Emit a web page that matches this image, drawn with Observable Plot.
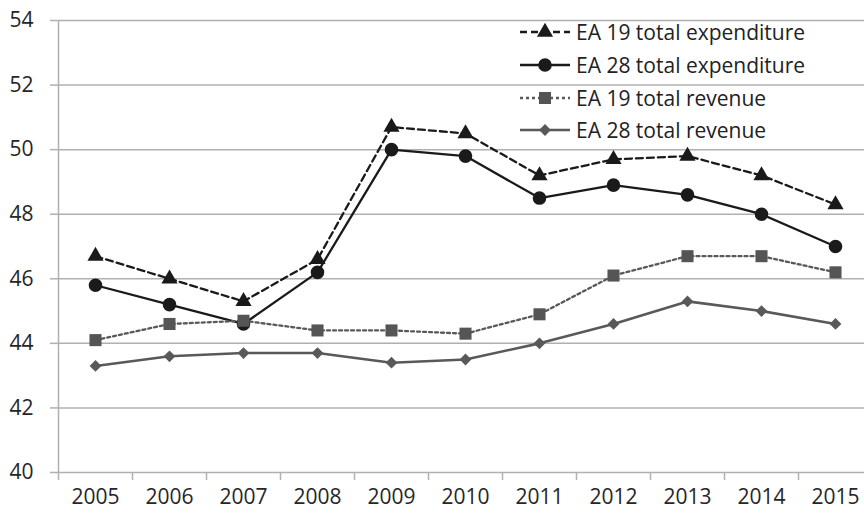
<!DOCTYPE html>
<html>
<head>
<meta charset="utf-8">
<script src="https://cdn.jsdelivr.net/npm/d3@7"></script>
<script src="https://cdn.jsdelivr.net/npm/@observablehq/plot@0.6"></script>
<style>
  html, body { margin: 0; padding: 0; background: #fff; }
  #wrap { position: relative; width: 864px; height: 514px; font-family: "Open Sans", sans-serif; }
  #legend { position: absolute; left: 520px; top: 16px; }
  .row { display: flex; align-items: center; height: 32.7px; }
  .row span { font-size: 21px; color: #222; margin-left: 6px; white-space: nowrap; }
</style>
</head>
<body>
<div id="wrap"><div id="legend"></div></div>
<script>
const years = [2005, 2006, 2007, 2008, 2009, 2010, 2011, 2012, 2013, 2014, 2015];
const ea19Exp = [46.7, 46.0, 45.3, 46.6, 50.7, 50.5, 49.2, 49.7, 49.8, 49.2, 48.3];
const ea28Exp = [45.8, 45.2, 44.6, 46.2, 50.0, 49.8, 48.5, 48.9, 48.6, 48.0, 47.0];
const ea19Rev = [44.1, 44.6, 44.7, 44.4, 44.4, 44.3, 44.9, 46.1, 46.7, 46.7, 46.2];
const ea28Rev = [43.3, 43.6, 43.7, 43.7, 43.4, 43.5, 44.0, 44.6, 45.3, 45.0, 44.6];
const yTicks = [40, 42, 44, 46, 48, 50, 52, 54];
const seriesNames = ["EA 19 total expenditure", "EA 28 total expenditure", "EA 19 total revenue", "EA 28 total revenue"];

const styles = [
  {values: ea19Exp, stroke: "#1a1a1a", fill: "#1a1a1a", dash: "7,4", width: 2.3, symbol: "triangle", r: 6},
  {values: ea28Exp, stroke: "#1a1a1a", fill: "#1a1a1a", dash: null, width: 2.3, symbol: "circle", r: 6.8},
  {values: ea19Rev, stroke: "#595959", fill: "#555555", dash: "3,3", width: 2.3, symbol: "square", r: 6.8},
  {values: ea28Rev, stroke: "#595959", fill: "#595959", dash: null, width: 2.6, symbol: "diamond2", r: 5.3}
];

const bounds = d3.range(years[0] - 0.5, years[years.length - 1] + 1, 1);

const marks = [
  Plot.gridY(yTicks, {stroke: "#b0b0b0", strokeOpacity: 1, strokeWidth: 1.5}),
  Plot.ruleX([bounds[0]], {y1: 40, y2: 54, stroke: "#b0b0b0", strokeWidth: 1.5}),
  Plot.axisY(yTicks, {tickSize: 8, tickPadding: 17, stroke: "#b0b0b0", fill: "#262626", fontSize: 21, strokeWidth: 1.5, label: null}),
  Plot.axisX(bounds, {tickSize: 8, tickFormat: () => "", stroke: "#b0b0b0", strokeWidth: 1.5, label: null}),
  Plot.axisX(years, {tickSize: 0, tickPadding: 17, tickFormat: d => String(d), fill: "#262626", fontSize: 21, label: null})
];
styles.forEach((s, i) => {
  const data = years.map((y, j) => ({year: y, value: s.values[j], series: seriesNames[i]}));
  marks.push(Plot.line(data, {x: "year", y: "value", stroke: s.stroke, strokeWidth: s.width, strokeDasharray: s.dash}));
});
styles.forEach((s, i) => {
  const data = years.map((y, j) => ({year: y, value: s.values[j]}));
  marks.push(Plot.dot(data, {x: "year", y: "value", symbol: () => s.symbol, r: s.r, fill: s.fill, stroke: "none"}));
});

const chart = Plot.plot({
  width: 864,
  height: 514,
  marginLeft: 58,
  marginRight: 0,
  marginTop: 20,
  marginBottom: 42,
  style: {fontFamily: "'Open Sans', sans-serif", background: "#fff", overflow: "hidden"},
  x: {type: "linear", domain: [bounds[0], bounds[bounds.length - 1]], range: [58, 872], axis: null},
  y: {domain: [40, 54], range: [472, 20], axis: null},
  symbol: {type: "identity"},
  marks
});
document.getElementById("wrap").insertBefore(chart, document.getElementById("legend"));

// Legend
const legend = d3.select("#legend");
styles.forEach((s, i) => {
  const row = legend.append("div").attr("class", "row");
  const svg = row.append("svg").attr("width", 50).attr("height", 20);
  svg.append("line").attr("x1", 0).attr("x2", 50).attr("y1", 10).attr("y2", 10)
    .attr("stroke", s.stroke).attr("stroke-width", s.width).attr("stroke-dasharray", s.dash);
  const symMap = {triangle: d3.symbolTriangle, circle: d3.symbolCircle, square: d3.symbolSquare, diamond2: d3.symbolDiamond2};
  svg.append("path").attr("transform", "translate(25,10)")
    .attr("d", d3.symbol(symMap[s.symbol], Math.PI * s.r * s.r)()).attr("fill", s.fill);
  row.append("span").text(seriesNames[i]);
});
</script>
</body>
</html>
